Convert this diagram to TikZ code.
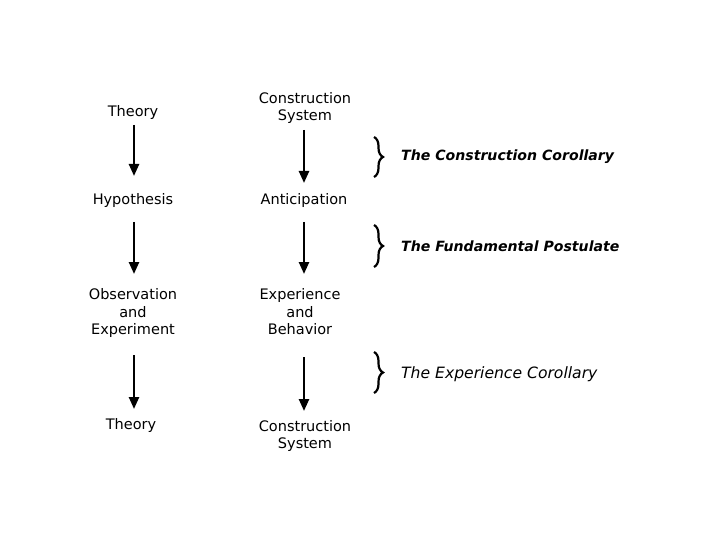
\documentclass[tikz,border=0pt]{standalone}
\usepackage{fontspec}
\setmainfont{DejaVu Sans}
\usetikzlibrary{arrows.meta,decorations.pathreplacing}
\begin{document}
\begin{tikzpicture}[x=1pt,y=-1pt,
  lbl/.style={font=\fontsize{14.5}{17.5}\selectfont, align=center, inner sep=0pt},
  cor/.style={font=\fontsize{14.1}{16}\selectfont\bfseries\itshape, anchor=west, inner sep=0pt},
  flow/.style={line width=2.4pt, -{Triangle[width=10pt,length=12pt]}},
  brc/.style={decorate, decoration={brace, amplitude=9pt}, line width=2.2pt}]
\useasboundingbox (0,0) rectangle (720,540);
% left column
\node[lbl] (t1) at (133,113) {Theory};
\node[lbl] (h) at (133,200) {Hypothesis};
\node[lbl] (oe) at (133,313) {Observation\\and\\Experiment};
\node[lbl] (t2) at (131,425) {Theory};
% right column
\node[lbl] (cs1) at (305,108) {Construction\\System};
\node[lbl] (an) at (304,200) {Anticipation};
\node[lbl] (eb) at (300,312) {Experience\\and\\Behavior};
\node[lbl] (cs2) at (305,436) {Construction\\System};
% arrows
\coordinate (a1s) at (134,125); \coordinate (a1e) at (134,176);
\coordinate (a2s) at (134,222); \coordinate (a2e) at (134,274);
\coordinate (a3s) at (134,355); \coordinate (a3e) at (134,409);
\coordinate (b1s) at (304,130); \coordinate (b1e) at (304,183);
\coordinate (b2s) at (304,222); \coordinate (b2e) at (304,274);
\coordinate (b3s) at (304,357); \coordinate (b3e) at (304,411);
\draw[flow] (a1s) -- (a1e);
\draw[flow] (a2s) -- (a2e);
\draw[flow] (a3s) -- (a3e);
\draw[flow] (b1s) -- (b1e);
\draw[flow] (b2s) -- (b2e);
\draw[flow] (b3s) -- (b3e);
% braces
\coordinate (c1t) at (374,137); \coordinate (c1b) at (374,177);
\coordinate (c2t) at (374,225); \coordinate (c2b) at (374,267);
\coordinate (c3t) at (374,352); \coordinate (c3b) at (374,393);
\draw[brc] (c1t) -- (c1b);
\draw[brc] (c2t) -- (c2b);
\draw[brc] (c3t) -- (c3b);
\node[cor] (k1) at (401,157) {The Construction Corollary};
\node[cor] (k2) at (401,246) {The Fundamental Postulate};
\node[cor,font=\fontsize{15.6}{16}\selectfont\itshape] (k3) at (401,374) {The Experience Corollary};
\end{tikzpicture}
\end{document}
